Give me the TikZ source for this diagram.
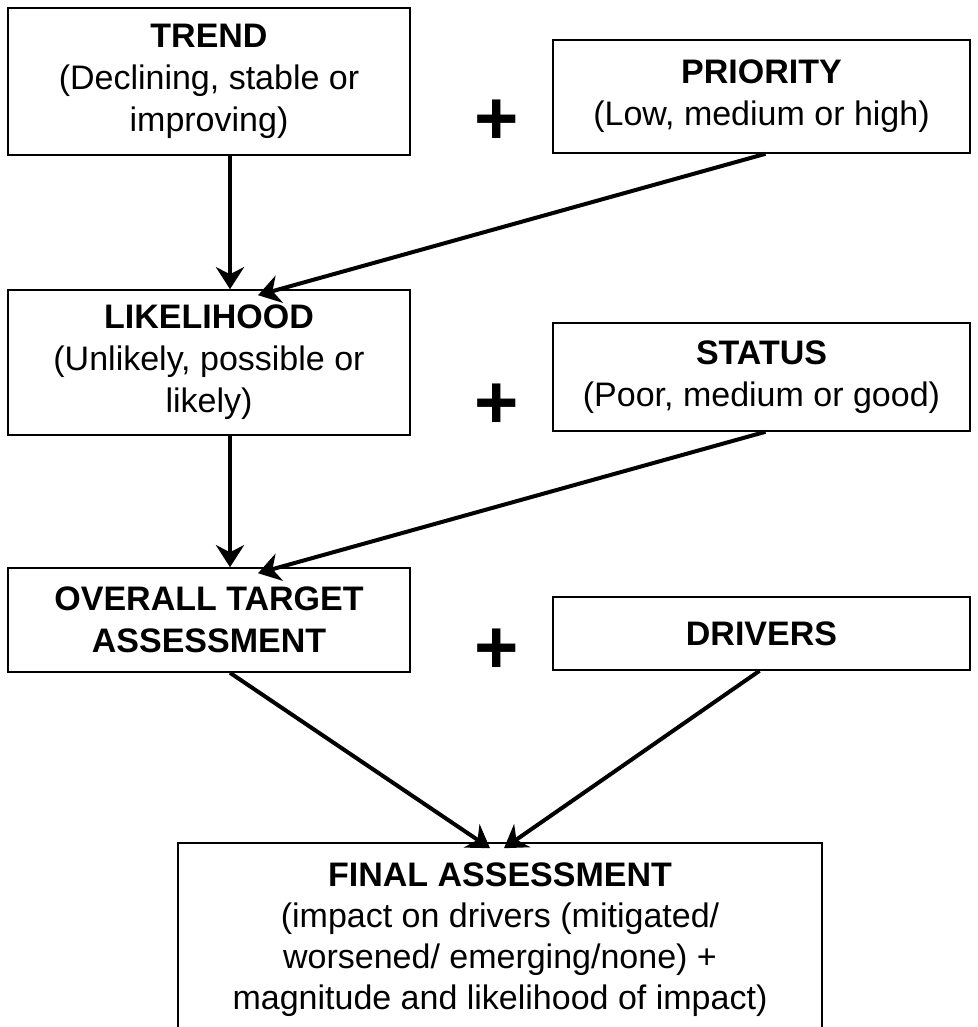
\documentclass[tikz,border=0pt]{standalone}
\usepackage{fontspec}
\setmainfont{Liberation Sans}
\usetikzlibrary{arrows.meta}

\tikzset{
  box/.style={draw, line width=1.6pt, align=center, inner sep=0pt,
    font=\fontsize{34}{42}\selectfont},
  lbox/.style={box, minimum width=402pt},
  rbox/.style={box, minimum width=417pt},
  link/.style={-{Stealth[length=22pt,width=28pt,inset=7pt]}, line width=4pt},
  plus/.style={inner sep=0pt, font=\fontsize{76}{76}\selectfont\bfseries}
}

\begin{document}
\begin{tikzpicture}[x=1pt,y=-1pt]
\useasboundingbox (0,0) rectangle (977,1027);
\clip (0,0) rectangle (977,1027);
% left column
\node[lbox, minimum height=147pt] (trend) at (209,81.5)
  {\textbf{TREND}\\(Declining, stable or\\improving)};
\node[lbox, minimum height=145pt] (like) at (209,362.5)
  {\textbf{LIKELIHOOD}\\(Unlikely, possible or\\likely)};
\node[lbox, minimum height=104pt] (overall) at (209,620)
  {\textbf{OVERALL TARGET}\\\textbf{ASSESSMENT}};
% right column
\node[rbox, minimum height=113pt] (prio) at (761.5,96.5)
  {\textbf{PRIORITY}\\(Low, medium or high)};
\node[rbox, minimum height=108pt] (status) at (761.5,377)
  {\textbf{STATUS}\\(Poor, medium or good)};
\node[rbox, minimum height=73pt] (drivers) at (761.5,633.5)
  {\textbf{DRIVERS}};
% result
\node[box, minimum width=644pt, minimum height=193pt,
  font=\fontsize{34}{41}\selectfont] (final) at (500,939.5)
  {\textbf{FINAL ASSESSMENT}\\(impact on drivers (mitigated/\\worsened/ emerging/none) +\\magnitude and likelihood of impact)};
% plus signs
\node[plus] (p1) at (497,122) {+};
\node[plus] (p2) at (497,406) {+};
\node[plus] (p3) at (497,651) {+};
% connectors
\draw[link] ([xshift=21pt]trend.south) -- ([xshift=21pt]like.north);
\draw[link] ([xshift=4pt]prio.south) -- ([xshift=49pt,yshift=-6pt]like.north);
\draw[link] ([xshift=21pt]like.south) -- ([xshift=21pt]overall.north);
\draw[link] ([xshift=4pt]status.south) -- ([xshift=49pt,yshift=-6pt]overall.north);
\draw[link] ([xshift=21pt]overall.south) -- ([xshift=-10pt,yshift=-6pt]final.north);
\draw[link] ([xshift=-2pt]drivers.south) -- ([xshift=4pt,yshift=-6pt]final.north);
\end{tikzpicture}
\end{document}
